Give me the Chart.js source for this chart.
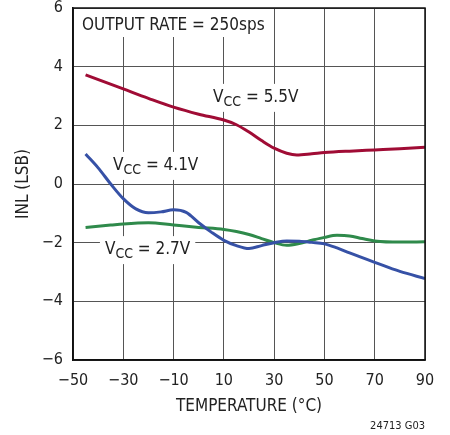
<!DOCTYPE html>
<html>
<head>
<meta charset="utf-8">
<script src="https://cdn.jsdelivr.net/npm/chart.js@4.4.1/dist/chart.umd.min.js"></script>
<style>
  html, body { margin: 0; padding: 0; background: #fff; }
  #wrap { width: 450px; height: 435px; position: relative; }
</style>
</head>
<body>
<div id="wrap"><canvas id="grafico"></canvas></div>
<script>
// valores: INL frente a temperatura
const xTicks = [-50, -30, -10, 10, 30, 50, 70, 90];
const yTicks = [-6, -4, -2, 0, 2, 4, 6];

const temp55 = [-45, -30, -20, -10, 0, 10, 15, 20, 25, 30, 35, 39, 45, 50, 60, 70, 80, 90];
const inl55  = [3.72, 3.24, 2.92, 2.62, 2.38, 2.18, 2.02, 1.77, 1.48, 1.22, 1.05, 0.99, 1.03, 1.07, 1.12, 1.16, 1.2, 1.25];

const temp41 = [-45, -40, -35, -30, -25, -20, -15, -10, -5, 0, 5, 10, 15, 20, 25, 30, 35, 40, 45, 50, 55, 60, 70, 80, 90];
const inl41  = [1.02, 0.55, 0.0, -0.5, -0.85, -0.98, -0.95, -0.88, -0.97, -1.32, -1.64, -1.92, -2.1, -2.2, -2.1, -2.0, -1.94, -1.95, -1.99, -2.04, -2.18, -2.35, -2.67, -2.98, -3.22];

const temp27 = [-45, -35, -30, -20, -10, 0, 10, 15, 20, 25, 30, 35, 40, 45, 50, 55, 60, 65, 70, 80, 90];
const inl27  = [-1.48, -1.4, -1.36, -1.32, -1.4, -1.48, -1.55, -1.62, -1.72, -1.86, -2.0, -2.09, -2.03, -1.92, -1.82, -1.75, -1.77, -1.86, -1.94, -1.98, -1.97];

const FUENTE = "'DejaVu Sans Condensed', 'Liberation Sans Narrow', sans-serif";
const TINTA = '#222';

// etiquetas de las curvas (posición en unidades de datos)
const etiquetas = [
  { sub: 'CC', resto: ' = 5.5V', x: 5.7, y: 2.8 },
  { sub: 'CC', resto: ' = 4.1V', x: -34.1, y: 0.48 },
  { sub: 'CC', resto: ' = 2.7V', x: -37.3, y: -2.39 }
];

const puntos = (xs, ys) => xs.map((t, i) => ({ x: t, y: ys[i] }));
const menos = v => String(v).replace('-', '\u2212');

const textos = {
  id: 'textos',
  beforeDatasetsDraw(chart) {
    const { ctx, chartArea: a, scales: { x, y } } = chart;
    ctx.save();
    // recuadro del título interior
    ctx.font = '17px ' + FUENTE;
    ctx.fillStyle = '#fff';
    const tit = 'OUTPUT RATE = 250sps';
    const w = ctx.measureText(tit).width;
    ctx.fillRect(a.left + 1, a.top + 1, w + 14, 28);
    ctx.fillStyle = TINTA;
    ctx.textBaseline = 'alphabetic';
    ctx.fillText(tit, a.left + 9, a.top + 22);

    etiquetas.forEach(e => {
      const px = x.getPixelForValue(e.x);
      const py = y.getPixelForValue(e.y);
      ctx.font = '17px ' + FUENTE;
      const wV = ctx.measureText('V').width;
      const wR = ctx.measureText(e.resto).width;
      ctx.font = '14px ' + FUENTE;
      const wS = ctx.measureText(e.sub).width;
      const total = wV + wS + wR;
      ctx.fillStyle = '#fff';
      ctx.fillRect(px - 5, py - 18, total + 10, 28);
      ctx.fillStyle = TINTA;
      ctx.font = '17px ' + FUENTE;
      ctx.fillText('V', px, py);
      ctx.font = '14px ' + FUENTE;
      ctx.fillText(e.sub, px + wV, py + 4);
      ctx.font = '17px ' + FUENTE;
      ctx.fillText(e.resto, px + wV + wS, py);
    });
    ctx.restore();
  },
  afterDraw(chart) {
    const { ctx, chartArea: a } = chart;
    ctx.save();
    ctx.strokeStyle = '#111';
    ctx.lineWidth = 1.5;
    ctx.strokeRect(a.left, a.top, a.right - a.left, a.bottom - a.top);
    ctx.fillStyle = TINTA;
    ctx.font = '17px ' + FUENTE;
    ctx.textAlign = 'center';
    ctx.textBaseline = 'middle';
    ctx.fillText('TEMPERATURE (\u00b0C)', (a.left + a.right) / 2, 407);
    ctx.save();
    ctx.translate(24, (a.top + a.bottom) / 2);
    ctx.rotate(-Math.PI / 2);
    ctx.fillText('INL (LSB)', 0, 0);
    ctx.restore();
    ctx.font = '11px ' + FUENTE;
    ctx.textAlign = 'right';
    ctx.fillText('24713 G03', a.right, 426);
    ctx.restore();
  }
};

const serie = (label, data, color) => ({
  label, data,
  borderColor: color,
  borderWidth: 3,
  pointRadius: 0,
  fill: false,
  cubicInterpolationMode: 'monotone'
});

new Chart(document.getElementById('grafico'), {
  type: 'line',
  data: {
    datasets: [
      serie('VCC = 5.5V', puntos(temp55, inl55), '#a00c35'),
      serie('VCC = 4.1V', puntos(temp41, inl41), '#3651a6'),
      serie('VCC = 2.7V', puntos(temp27, inl27), '#2f8a4b')
    ]
  },
  options: {
    responsive: true,
    maintainAspectRatio: false,
    animation: false,
    layout: { padding: { left: 0, right: 25, top: 8, bottom: 0 } },
    plugins: { legend: { display: false }, tooltip: { enabled: false } },
    scales: {
      x: {
        type: 'linear', min: -50, max: 90,
        afterBuildTicks: s => { s.ticks = xTicks.map(v => ({ value: v })); },
        afterFit: s => { s.height = 75; s.paddingLeft = 0; s.paddingRight = 0; },
        grid: { color: '#555', lineWidth: 1, drawTicks: false },
        border: { color: '#111', width: 1.5 },
        ticks: { padding: 11, color: TINTA, font: { family: FUENTE, size: 16 }, callback: menos, maxRotation: 0 }
      },
      y: {
        type: 'linear', min: -6, max: 6,
        afterBuildTicks: s => { s.ticks = yTicks.map(v => ({ value: v })); },
        afterFit: s => { s.width = 73; s.paddingTop = 0; s.paddingBottom = 0; },
        grid: { color: '#555', lineWidth: 1, drawTicks: false },
        border: { color: '#111', width: 1.5 },
        ticks: { padding: 10, color: TINTA, font: { family: FUENTE, size: 16 }, callback: menos }
      }
    }
  },
  plugins: [textos]
});
</script>
</body>
</html>
